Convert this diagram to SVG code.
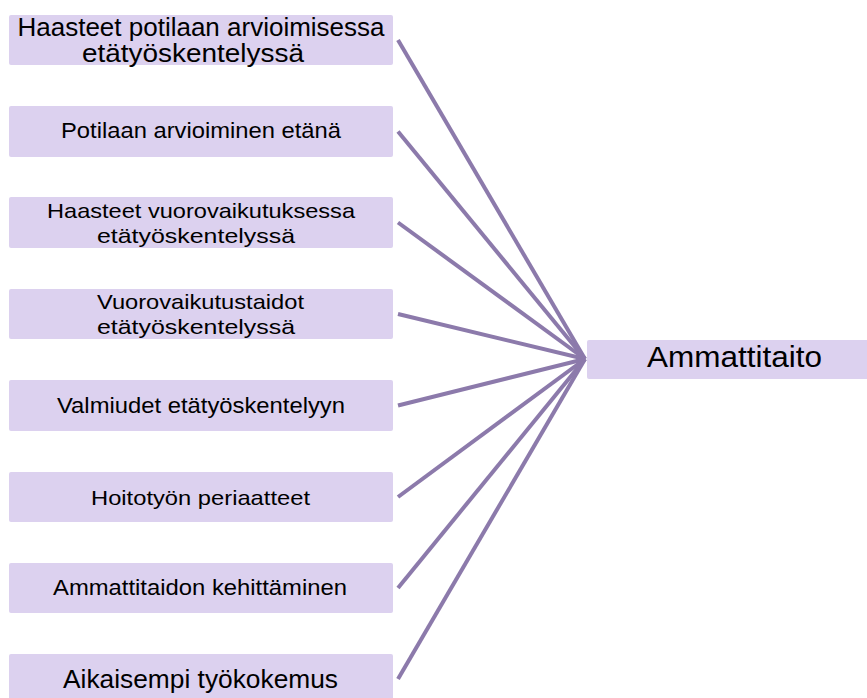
<svg xmlns="http://www.w3.org/2000/svg" width="867" height="698" viewBox="0 0 867 698">
<style>
.box{fill:#dcd1ef;}
.t{font-family:"Liberation Sans",Arial,sans-serif;fill:#000;text-anchor:middle;}
.c{stroke:#8c7aab;stroke-width:4;fill:none;}
</style>
<rect width="867" height="698" fill="#fff"/>
<g id="connectors">
<line class="c" x1="398" y1="40" x2="585" y2="359"/>
<line class="c" x1="398" y1="131.5" x2="585" y2="359"/>
<line class="c" x1="398" y1="222.5" x2="585" y2="359"/>
<line class="c" x1="398" y1="314" x2="585" y2="359"/>
<line class="c" x1="398" y1="405.5" x2="585" y2="359"/>
<line class="c" x1="398" y1="497" x2="585" y2="359"/>
<line class="c" x1="398" y1="588" x2="585" y2="359"/>
<line class="c" x1="398" y1="679" x2="585" y2="359"/>
</g>
<g id="n1">
<rect class="box" x="9" y="15" width="384" height="50" rx="2"/>
<text class="t" x="201" y="36" font-size="25" textLength="367" lengthAdjust="spacingAndGlyphs">Haasteet potilaan arvioimisessa</text>
<text class="t" x="193" y="61.5" font-size="25" textLength="222" lengthAdjust="spacingAndGlyphs">etätyöskentelyssä</text>
</g>
<g id="n2">
<rect class="box" x="9" y="106" width="384" height="51" rx="2"/>
<text class="t" x="201" y="138" font-size="22" textLength="280" lengthAdjust="spacingAndGlyphs">Potilaan arvioiminen etänä</text>
</g>
<g id="n3">
<rect class="box" x="9" y="197" width="384" height="51" rx="2"/>
<text class="t" x="201" y="217.5" font-size="21" textLength="308" lengthAdjust="spacingAndGlyphs">Haasteet vuorovaikutuksessa</text>
<text class="t" x="196" y="242.5" font-size="21" textLength="198" lengthAdjust="spacingAndGlyphs">etätyöskentelyssä</text>
</g>
<g id="n4">
<rect class="box" x="9" y="289" width="384" height="50" rx="2"/>
<text class="t" x="200.5" y="309" font-size="21" textLength="207" lengthAdjust="spacingAndGlyphs">Vuorovaikutustaidot</text>
<text class="t" x="196" y="334" font-size="21" textLength="198" lengthAdjust="spacingAndGlyphs">etätyöskentelyssä</text>
</g>
<g id="n5">
<rect class="box" x="9" y="380" width="384" height="51" rx="2"/>
<text class="t" x="201" y="412.5" font-size="22" textLength="288" lengthAdjust="spacingAndGlyphs">Valmiudet etätyöskentelyyn</text>
</g>
<g id="n6">
<rect class="box" x="9" y="472" width="384" height="50" rx="2"/>
<text class="t" x="200.5" y="505" font-size="21" textLength="219" lengthAdjust="spacingAndGlyphs">Hoitotyön periaatteet</text>
</g>
<g id="n7">
<rect class="box" x="9" y="563" width="384" height="50" rx="2"/>
<text class="t" x="200" y="595" font-size="22" textLength="294" lengthAdjust="spacingAndGlyphs">Ammattitaidon kehittäminen</text>
</g>
<g id="n8">
<rect class="box" x="9" y="654" width="384" height="50" rx="2"/>
<text class="t" x="200.5" y="688" font-size="25" textLength="275" lengthAdjust="spacingAndGlyphs">Aikaisempi työkokemus</text>
</g>
<g id="n9">
<rect class="box" x="587" y="340" width="285" height="39" rx="2"/>
<text class="t" x="734.5" y="367" font-size="30" textLength="175" lengthAdjust="spacingAndGlyphs">Ammattitaito</text>
</g>
</svg>
